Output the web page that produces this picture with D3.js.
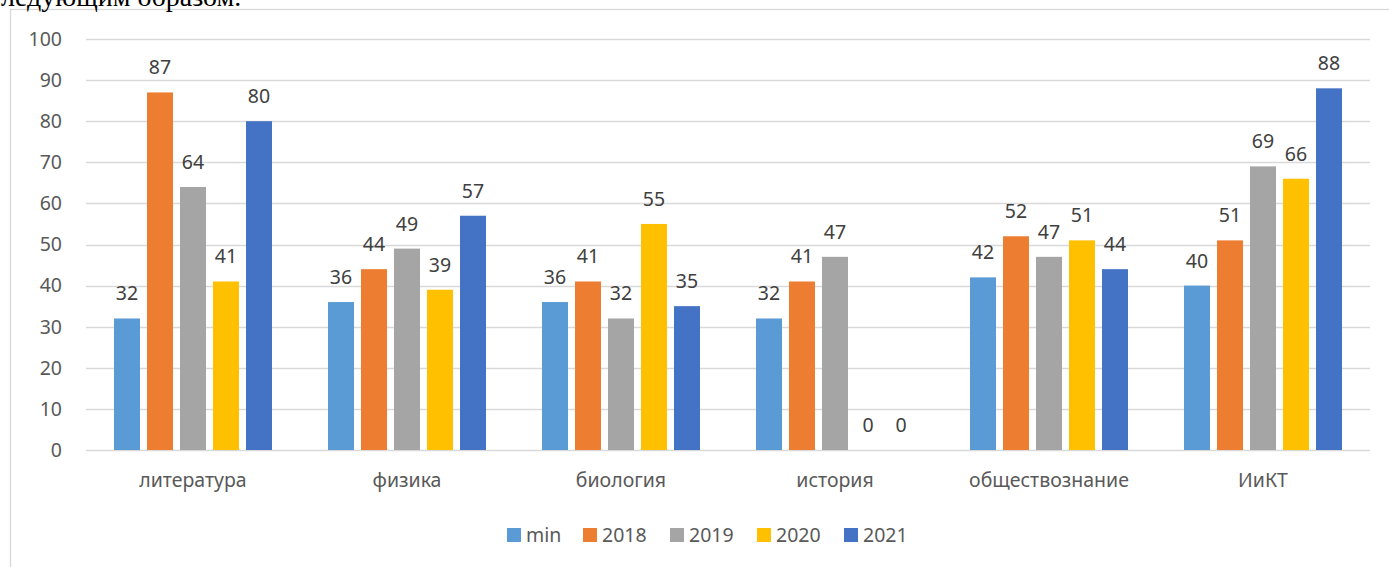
<!DOCTYPE html>
<html><head><meta charset="utf-8">
<script src="https://cdn.jsdelivr.net/npm/d3@7"></script>
<style>body{margin:0;background:#fff;}svg{display:block;}</style>
</head><body>
<script>
const categories = ["литература","физика","биология","история","обществознание","ИиКТ"];
const seriesNames = ["min","2018","2019","2020","2021"];
const minVals = [32,36,36,32,42,40];
const v2018 = [87,44,41,41,52,51];
const v2019 = [64,49,32,47,47,69];
const v2020 = [41,39,55,0,51,66];
const v2021 = [80,57,35,0,44,88];
const yTicks = [0,10,20,30,40,50,60,70,80,90,100];
const colors = ["#5b9bd5","#ed7d31","#a5a5a5","#ffc000","#4472c4"];
const seriesVals = [minVals,v2018,v2019,v2020,v2021];

(function(){
const W=1389,H=567;
const svg=d3.select("body").append("svg").attr("width",W).attr("height",H);
const font="'Noto Sans', 'Open Sans', sans-serif";
const txt="#595959";
const fs=19.5;

svg.append("rect").attr("x",10.5).attr("y",9.5).attr("width",W).attr("height",H)
  .attr("fill","#fff").attr("stroke","#d9d9d9").attr("stroke-width",1.3);

svg.append("text").attr("x",1).attr("y",6).attr("font-family","'Liberation Serif', serif")
  .attr("font-size",28).attr("fill","#000").text("ледующим образом.");

const pLeft=86,pRight=1370,pTop=39,pBottom=450;
const x0=d3.scaleBand().domain(categories).range([pLeft,pRight]).padding(0);
const bw0=x0.bandwidth();
const inset=bw0*28/214;
const x1=d3.scaleBand().domain(seriesNames).range([inset,bw0-inset]).paddingInner(0.212).paddingOuter(0);
const y=d3.scaleLinear().domain([0,100]).range([pBottom,pTop]);

svg.append("g").selectAll("line").data(yTicks).join("line")
  .attr("x1",pLeft).attr("x2",pRight).attr("y1",d=>Math.round(y(d))+0.5).attr("y2",d=>Math.round(y(d))+0.5)
  .attr("stroke","#d9d9d9").attr("stroke-width",1.3);

svg.append("g").selectAll("text").data(yTicks).join("text")
  .attr("x",62).attr("y",d=>y(d)).attr("dy","0.35em").attr("text-anchor","end")
  .attr("font-family",font).attr("font-size",fs).attr("fill",txt).text(d=>d);

const data=[];
categories.forEach((c,i)=>seriesNames.forEach((s,j)=>data.push({c,s,v:seriesVals[j][i],j})));
svg.append("g").selectAll("rect").data(data).join("rect")
  .attr("x",d=>x0(d.c)+x1(d.s)).attr("width",x1.bandwidth())
  .attr("y",d=>y(d.v)).attr("height",d=>y(0)-y(d.v)).attr("fill",d=>colors[d.j]);

svg.append("g").selectAll("text").data(data).join("text")
  .attr("x",d=>x0(d.c)+x1(d.s)+x1.bandwidth()/2).attr("y",d=>y(d.v)-18)
  .attr("text-anchor","middle").attr("font-family",font).attr("font-size",fs).attr("fill","#404040")
  .text(d=>d.v);

svg.append("g").selectAll("text").data(categories).join("text")
  .attr("x",d=>x0(d)+bw0/2).attr("y",480).attr("dy","0.35em").attr("text-anchor","middle")
  .attr("font-family",font).attr("font-size",fs).attr("fill",txt).text(d=>d);

const legX=[507,583,670,757,844];
const lg=svg.append("g").selectAll("g").data(seriesNames).join("g")
  .attr("transform",(d,i)=>`translate(${legX[i]},535)`);
lg.append("rect").attr("x",0).attr("y",-7).attr("width",14).attr("height",14).attr("fill",(d,i)=>colors[i]);
lg.append("text").attr("x",19).attr("y",0).attr("dy","0.35em").attr("font-family",font)
  .attr("font-size",fs).attr("fill",txt).text(d=>d);
})();
</script>
</body></html>
